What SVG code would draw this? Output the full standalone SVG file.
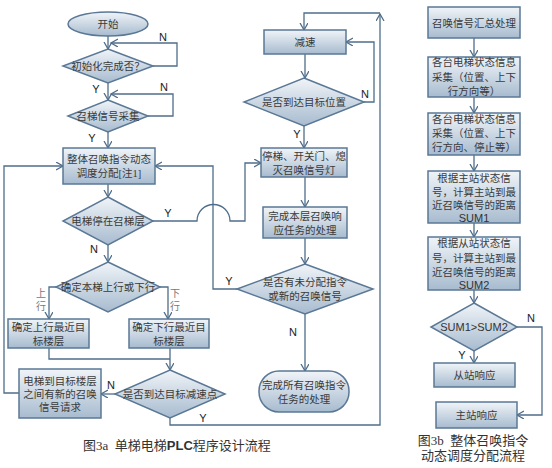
<svg xmlns="http://www.w3.org/2000/svg" width="552" height="468" viewBox="0 0 552 468">
<defs>
<linearGradient id="g" x1="0" y1="0" x2="0" y2="1">
<stop offset="0" stop-color="#f0f4f8"/>
<stop offset="1" stop-color="#a7bbcf"/>
</linearGradient>
<marker id="a" markerUnits="userSpaceOnUse" markerWidth="10" markerHeight="10" refX="7" refY="4" orient="auto" viewBox="0 0 10 10">
<path d="M0,0 L7,4 L0,8" fill="none" stroke="#4f6d8a" stroke-width="1.3"/>
</marker>
</defs>
<style>
.n{fill:url(#g);stroke:#5a7895;stroke-width:1.5}
.t{font-family:"Liberation Serif","Noto Sans CJK SC",serif;font-size:10.5px;fill:#3a3a3a;text-anchor:middle}
.s{font-family:"Liberation Sans",Arial,sans-serif;font-size:11px;fill:#333;text-anchor:middle}
.l{font-family:"Liberation Sans",Arial,sans-serif;font-size:11px;fill:#222;text-anchor:middle}
.g{font-family:"Liberation Serif","Noto Sans CJK SC",serif;font-size:10px;fill:#777;text-anchor:middle}
.c{font-family:"Liberation Serif","Noto Sans CJK SC",serif;font-size:13px;fill:#333;white-space:pre}
.e{fill:none;stroke:#4f6d8a;stroke-width:1.3;marker-end:url(#a)}
.p{fill:none;stroke:#4f6d8a;stroke-width:1.3}
</style>
<rect width="552" height="468" fill="#fff"/>
<g id="connectors">
<path class="e" d="M108,36 V49"/>
<path class="e" d="M153,66 H177 V43 H111"/>
<path class="e" d="M108,83 V100"/>
<path class="e" d="M148,116 H173 V94 H111"/>
<path class="e" d="M108,132 V148"/>
<path class="e" d="M108,184 V197"/>
<path class="e" d="M153,221 H197 A16.5,16.5 0 0 1 230,221 H245 V163 H261"/>
<path class="e" d="M108,245 V262"/>
<path class="e" d="M56,287 H49 V319"/>
<path class="e" d="M160,287 H168 V319"/>
<path class="p" d="M49,348 V359 H170"/>
<path class="e" d="M170,348 V370"/>
<path class="e" d="M115,394 H101"/>
<path class="e" d="M19,393 H4 V166 H63"/>
<path class="e" d="M170,418 V425 H380 V14"/>
<path class="e" d="M380,13 H304 V30"/>
<path class="e" d="M305,54 V78"/>
<path class="e" d="M364,102 H374 V42 H346"/>
<path class="e" d="M304,126 V148"/>
<path class="e" d="M305,177 V207"/>
<path class="e" d="M305,238 V264"/>
<path class="e" d="M237,289 H213 V166 H155"/>
<path class="e" d="M305,314 V371"/>
<path class="e" d="M474,38 V57"/>
<path class="e" d="M474,97 V113"/>
<path class="e" d="M474,155 V171"/>
<path class="e" d="M474,223 V237"/>
<path class="e" d="M474,290 V303"/>
<path class="e" d="M517,327 H542 V415 H517"/>
<path class="e" d="M474,351 V363"/>
<text class="l" x="163" y="41">N</text>
<text class="l" x="96" y="93">Y</text>
<text class="l" x="164" y="91">N</text>
<text class="l" x="92" y="142">Y</text>
<text class="l" x="168" y="217">Y</text>
<text class="l" x="94" y="253">N</text>
<text class="g" x="41" y="297">上</text>
<text class="g" x="41" y="310">行</text>
<text class="g" x="175" y="297">下</text>
<text class="g" x="175" y="310">行</text>
<text class="l" x="111" y="389">N</text>
<text class="l" x="203" y="422">Y</text>
<text class="l" x="365" y="98">N</text>
<text class="l" x="297" y="138">Y</text>
<text class="l" x="229" y="285">Y</text>
<text class="l" x="293" y="336">N</text>
<text class="l" x="531" y="322">N</text>
<text class="l" x="462" y="359">Y</text>
</g>
<g id="start"><ellipse class="n" cx="108" cy="24" rx="40" ry="12"/><text class="t" x="108" y="28">开始</text></g>
<g id="init"><polygon class="n" points="108,49 153,66 108,83 63,66"/><text class="t" x="108" y="70">初始化完成否？</text></g>
<g id="collect"><polygon class="n" points="108,100 148,116 108,132 68,116"/><text class="t" x="108" y="120">召梯信号采集</text></g>
<g id="dispatch"><rect class="n" x="63" y="148" width="92" height="36"/><text class="t" x="109" y="163">整体召唤指令动态</text><text class="t" x="109" y="177">调度分配[注1]</text></g>
<g id="stopped"><polygon class="n" points="108,197 153,221 108,245 63,221"/><text class="t" x="108" y="225">电梯停在召梯层</text></g>
<g id="direction"><polygon class="n" points="108,262 160,287 108,312 56,287"/><text class="t" x="108" y="291">确定本梯上行或下行</text></g>
<g id="up"><rect class="n" x="8" y="319" width="81" height="29"/><text class="t" x="48.5" y="331">确定上行最近目</text><text class="t" x="48.5" y="345">标楼层</text></g>
<g id="down"><rect class="n" x="129" y="319" width="80" height="29"/><text class="t" x="169" y="331">确定下行最近目</text><text class="t" x="169" y="345">标楼层</text></g>
<g id="decelpoint"><polygon class="n" points="170,370 225,394 170,418 115,394"/><text class="t" x="170" y="398">是否到达目标减速点</text></g>
<g id="newcall"><rect class="n" x="19" y="369" width="82" height="49"/><text class="t" x="60" y="385">电梯到目标楼层</text><text class="t" x="60" y="398">之间有新的召唤</text><text class="t" x="60" y="411">信号请求</text></g>
<g id="decel"><rect class="n" x="264" y="30" width="82" height="24"/><text class="t" x="305" y="46">减速</text></g>
<g id="arrived"><polygon class="n" points="304,78 364,102 304,126 244,102"/><text class="t" x="304" y="106">是否到达目标位置</text></g>
<g id="stop"><rect class="n" x="261" y="148" width="86" height="29"/><text class="t" x="304" y="160">停梯、开关门、熄</text><text class="t" x="304" y="174">灭召唤信号灯</text></g>
<g id="finishfloor"><rect class="n" x="263" y="207" width="84" height="31"/><text class="t" x="305" y="220">完成本层召唤响</text><text class="t" x="305" y="234">应任务的处理</text></g>
<g id="pending"><polygon class="n" points="305,264 373,289 305,314 237,289"/><text class="t" x="305" y="286">是否有未分配指令</text><text class="t" x="305" y="300">或新的召唤信号</text></g>
<g id="end"><rect class="n" x="259" y="371" width="90" height="41" rx="20" ry="20"/><text class="t" x="304" y="389">完成所有召唤指令</text><text class="t" x="304" y="403">任务的处理</text></g>
<g id="summary"><rect class="n" x="428" y="7" width="92" height="31"/><text class="t" x="474" y="27">召唤信号汇总处理</text></g>
<g id="state1"><rect class="n" x="428" y="57" width="92" height="40"/><text class="t" x="474" y="66">各台电梯状态信息</text><text class="t" x="474" y="81">采集（位置、上下</text><text class="t" x="474" y="95">行方向等）</text></g>
<g id="state2"><rect class="n" x="428" y="113" width="92" height="42"/><text class="t" x="474" y="123">各台电梯状态信息</text><text class="t" x="474" y="137">采集（位置、上下</text><text class="t" x="474" y="151">行方向、停止等）</text></g>
<g id="sum1"><rect class="n" x="428" y="171" width="92" height="52"/><text class="t" x="474" y="182">根据主站状态信</text><text class="t" x="474" y="196">号，计算主站到最</text><text class="t" x="474" y="209">近召唤信号的距离</text><text class="s" x="474" y="222">SUM1</text></g>
<g id="sum2"><rect class="n" x="428" y="237" width="92" height="53"/><text class="t" x="474" y="247">根据从站状态信</text><text class="t" x="474" y="262">号，计算主站到最</text><text class="t" x="474" y="276">近召唤信号的距离</text><text class="s" x="474" y="289">SUM2</text></g>
<g id="compare"><polygon class="n" points="474,303 517,327 474,351 431,327"/><text class="s" x="474" y="331">SUM1&gt;SUM2</text></g>
<g id="slave"><rect class="n" x="434" y="363" width="81" height="24"/><text class="t" x="474.5" y="379">从站响应</text></g>
<g id="master"><rect class="n" x="436" y="402" width="81" height="26"/><text class="t" x="476.5" y="419">主站响应</text></g>
<text class="c" x="83" y="450" xml:space="preserve">图3a  单梯电梯<tspan font-family="Liberation Sans,Arial,sans-serif" font-weight="bold">PLC</tspan>程序设计流程</text>
<text class="c" x="473" y="445" text-anchor="middle" font-size="12.5" xml:space="preserve">图3b  整体召唤指令</text>
<text class="c" x="473" y="460" text-anchor="middle" font-size="12.5">动态调度分配流程</text>
</svg>
